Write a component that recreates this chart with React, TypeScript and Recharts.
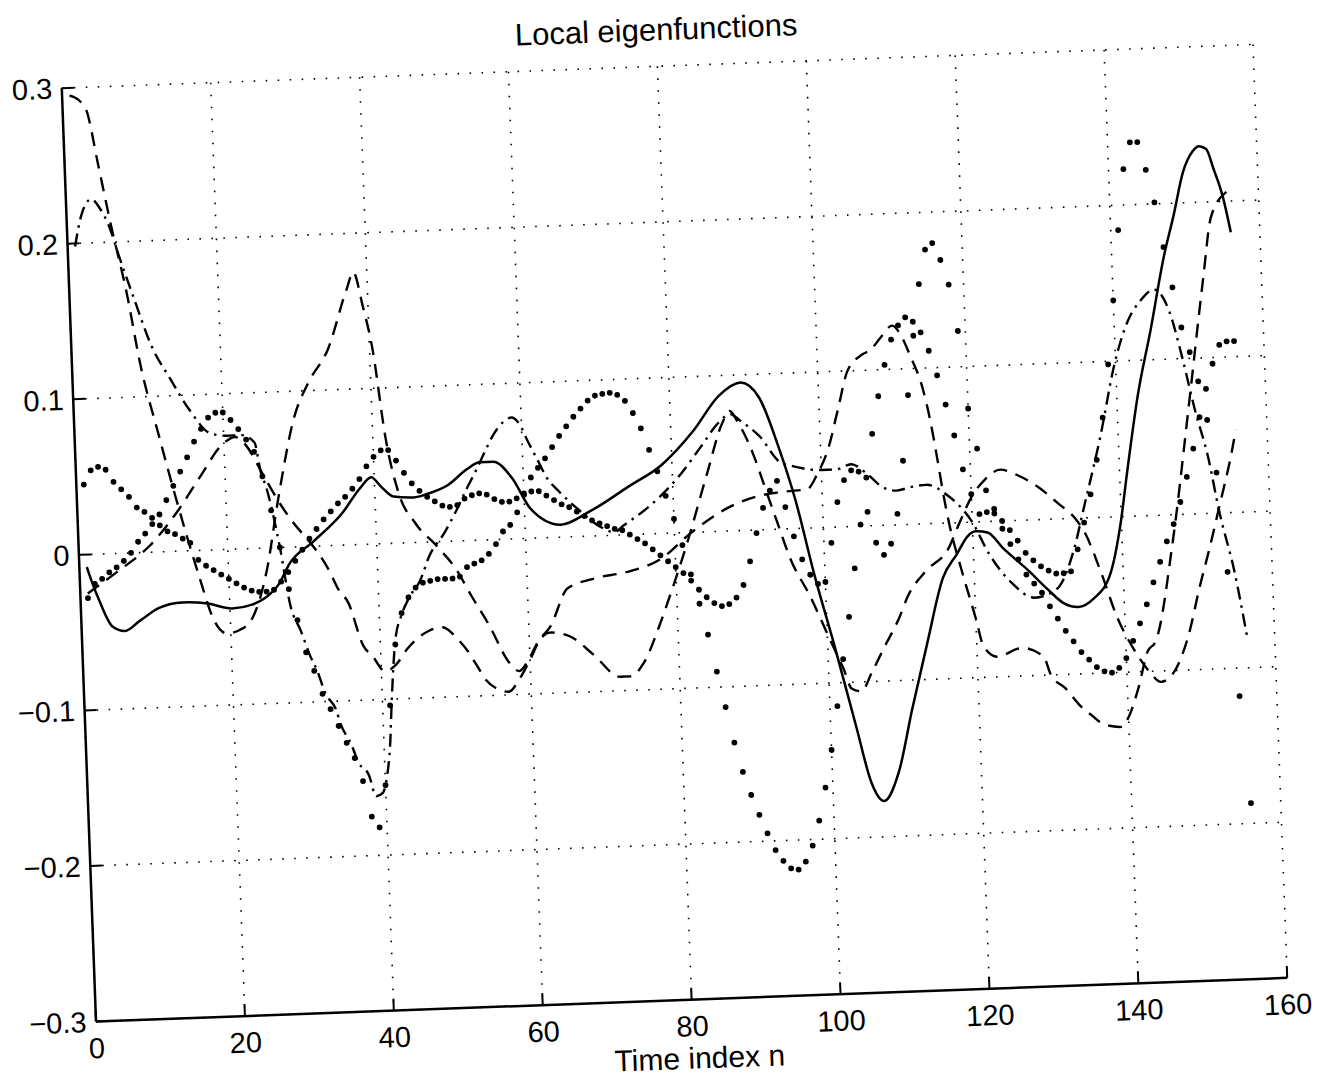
import React from "react";
import { LineChart, Line, XAxis, YAxis, CartesianGrid } from "recharts";

const xTicks = [0, 20, 40, 60, 80, 100, 120, 140, 160];
const yTicks = [-0.3, -0.2, -0.1, 0, 0.1, 0.2, 0.3];

// solid eigenfunction, [n, value]
const solidPts: [number, number][] = [
  [1, -0.008], [1.5, -0.016], [2.6, -0.031], [4.2, -0.047], [5.8, -0.05], [7.8, -0.044],
  [10.5, -0.036], [13.6, -0.033], [16.8, -0.034], [20.3, -0.038], [23, -0.036], [24.8, -0.032],
  [26.6, -0.024], [28.3, -0.01], [31.5, 0.003], [35.6, 0.021], [38, 0.036], [39.6, 0.043],
  [40.8, 0.037], [42.5, 0.03], [45.2, 0.029], [47.1, 0.031], [49.8, 0.036], [52.5, 0.046],
  [54.2, 0.05], [56, 0.05], [58.5, 0.039], [60.8, 0.019], [64.8, 0.008], [68.8, 0.016],
  [74.1, 0.031], [78.6, 0.044], [83, 0.065], [86.6, 0.087], [89.6, 0.095], [92, 0.085],
  [94.3, 0.054], [96.4, 0.018], [98.6, -0.031], [100.8, -0.074], [103.4, -0.128], [105.2, -0.165],
  [106.8, -0.177], [108.9, -0.159], [111, -0.119], [113.4, -0.076], [115.8, -0.035], [117.8, -0.02],
  [119.3, -0.009], [120.4, -0.006], [122, -0.007], [124.1, -0.018], [127.2, -0.032], [129.8, -0.045],
  [131.8, -0.054], [133.8, -0.057], [135.9, -0.052], [138.3, -0.036], [139.9, -0.004], [141, 0.028],
  [142.8, 0.077], [144.9, 0.12], [147, 0.166], [148.5, 0.192], [150, 0.22], [151.4, 0.233],
  [152.2, 0.236], [153.2, 0.234], [154.1, 0.221], [155.2, 0.203], [156.1, 0.18],
];

// dashed eigenfunction starting at the top-left corner
const dashedA: [number, number][] = [
  [1, 0.295], [2.2, 0.292], [3.2, 0.285], [4.5, 0.25], [5.8, 0.214], [7.8, 0.164], [9.1, 0.123],
  [11.3, 0.075], [13.2, 0.036], [16.1, -0.018], [17.7, -0.044], [19.5, -0.054], [21.2, -0.052],
  [22.8, -0.046], [25.1, -0.015], [27, 0.031], [29.6, 0.084], [31.6, 0.105], [34.4, 0.126],
  [37.2, 0.164], [38.2, 0.175], [39.3, 0.153], [40.4, 0.125], [41.7, 0.068], [43.2, 0.032],
  [45.2, 0.013], [48.1, -0.003], [50.5, -0.018], [52.5, -0.036], [54.6, -0.054], [57.3, -0.08],
  [58.5, -0.085], [59.8, -0.078], [61.1, -0.067], [62.9, -0.057], [65.4, -0.033], [69.3, -0.027],
  [73.3, -0.024], [77.8, -0.017], [82.3, 0], [86.9, 0.014], [91.7, 0.022], [95, 0.024], [98, 0.025],
  [99.5, 0.035], [101, 0.05], [102.5, 0.075], [104, 0.1], [106, 0.11], [107.2, 0.113], [108.5, 0.12],
  [110.2, 0.128], [111.5, 0.12], [112.5, 0.108], [114, 0.087], [114.9, 0.065], [115.6, 0.042],
  [116.3, 0.017], [116.8, 0.002], [118.3, -0.03], [120, -0.062], [120.9, -0.08], [122.7, -0.087],
  [126, -0.082], [128.9, -0.088], [129.8, -0.1], [131.7, -0.109], [133.5, -0.12], [135.1, -0.127],
  [136.7, -0.133], [139, -0.135], [140.1, -0.128], [141.5, -0.11], [142.9, -0.087], [144, -0.081],
  [146.8, -0.017], [149.5, 0.066], [152.2, 0.152], [153.5, 0.19], [155.7, 0.206],
];

// second dashed eigenfunction
const dashedC: [number, number][] = [
  [1, -0.025], [5, -0.012], [9.5, 0.004], [13.5, 0.026], [16.6, 0.047], [19.9, 0.068], [21.5, 0.072],
  [23, 0.066], [25, 0.048], [27, 0.03], [29, 0.015], [31, 0.003], [32.7, -0.009], [33.6, -0.017],
  [34.6, -0.028], [35.9, -0.037], [37.7, -0.065], [38.9, -0.072], [40.5, -0.082], [42, -0.078],
  [43.6, -0.068], [46.6, -0.057], [48.4, -0.055], [50.4, -0.063], [51.7, -0.071], [52.8, -0.08],
  [54, -0.09], [55.5, -0.096], [57, -0.098], [58.5, -0.09], [60, -0.078], [61.5, -0.065],
  [62.8, -0.061], [65.5, -0.064], [68.5, -0.076], [72, -0.091], [73.4, -0.091], [75.2, -0.083],
  [77.7, -0.057], [79.1, -0.04], [81.7, -0.006], [84.7, 0.038], [87, 0.07], [88, 0.077], [89, 0.07],
  [91, 0.048], [92.3, 0.028], [93.8, 0.005], [95.4, -0.019], [97.9, -0.044], [100.5, -0.074],
  [102, -0.091], [103, -0.104], [104.3, -0.106], [105.8, -0.094], [107.5, -0.079], [109.7, -0.06],
  [111, -0.046], [113.6, -0.03], [116.6, -0.017], [118.3, 0], [120, 0.016], [121.9, 0.027],
  [124, 0.033], [126.3, 0.029], [129, 0.021], [131.6, 0.01], [133.8, 0], [135.1, -0.01],
  [137, -0.035], [139, -0.065], [141, -0.085], [143, -0.1], [144.5, -0.107], [146, -0.103],
  [148.3, -0.08], [150.3, -0.045], [151.6, -0.024], [153.2, 0.004], [155, 0.036], [155.8, 0.053],
];

// dash-dot eigenfunction
const dashDot: [number, number][] = [
  [1, 0.198], [2, 0.218], [3.4, 0.228], [4.5, 0.222], [5.6, 0.211], [6.9, 0.19], [8.6, 0.164],
  [10.8, 0.132], [13.1, 0.111], [15.6, 0.09], [18.2, 0.075], [20.5, 0.073], [22.4, 0.073],
  [24.1, 0.068], [24.8, 0.049], [25.4, 0.04], [27, 0], [28.1, -0.037], [29.4, -0.054], [30.5, -0.07],
  [31.4, -0.08], [32.4, -0.095], [33.7, -0.105], [34.3, -0.115], [35.6, -0.128], [36.5, -0.14],
  [37.8, -0.148], [38.7, -0.162], [39.6, -0.16], [40.3, -0.148], [40.8, -0.13], [41.2, -0.104],
  [42, -0.063], [43, -0.046], [44, -0.036], [45.7, -0.024], [47, -0.009], [49.2, 0.006],
  [50.9, 0.02], [52.3, 0.033], [53.7, 0.045], [55.1, 0.058], [56, 0.066], [57.5, 0.075],
  [58.7, 0.078], [59.8, 0.073], [60.8, 0.062], [61.9, 0.051], [63.2, 0.038], [64.6, 0.03],
  [67.3, 0.017], [70, 0.006], [72, 0.002], [73.2, 0.006], [76, 0.015], [78.3, 0.024], [81, 0.037],
  [84, 0.055], [86.5, 0.07], [88, 0.075], [89.5, 0.07], [91.9, 0.06], [94.5, 0.043], [96.3, 0.04],
  [100, 0.037], [102, 0.037], [104, 0.04], [106, 0.034], [108, 0.025], [110, 0.022], [112, 0.024],
  [114, 0.025], [117, 0.017], [118.3, 0.011], [120, 0], [122, -0.02], [125, -0.04], [128, -0.05],
  [131, -0.045], [133.5, -0.02], [135, 0.006], [137.6, 0.052], [139.9, 0.099], [141.8, 0.125],
  [143.6, 0.138], [145.5, 0.145], [147.5, 0.13], [149, 0.1], [150.4, 0.067], [152, 0.035],
  [153.1, 0.003], [155, -0.04], [156.3, -0.08],
];

// point-marked eigenfunctions, one value per sample n = 1..156
const dotsP1: number[] = [
  0.045, 0.054, 0.056, 0.054, 0.046, 0.041, 0.036, 0.029, 0.026, 0.022,
  0.017, 0.013, 0.011, 0.008, 0.005, -0.006, -0.01, -0.013, -0.016, -0.019,
  -0.022, -0.025, -0.027, -0.028, -0.028, -0.027, -0.022, -0.016, -0.009, -0.002,
  0.005, 0.011, 0.017, 0.022, 0.027, 0.031, 0.036, 0.042, 0.05, 0.056,
  0.06, 0.06, 0.053, 0.045, 0.038, 0.033, 0.029, 0.026, 0.023, 0.022,
  0.023, 0.027, 0.029, 0.03, 0.029, 0.026, 0.024, 0.024, 0.026, 0.029,
  0.03, 0.03, 0.027, 0.024, 0.021, 0.019, 0.016, 0.013, 0.01, 0.008,
  0.006, 0.004, 0.003, 0, -0.003, -0.006, -0.01, -0.014, -0.018, -0.022,
  -0.026, -0.031, -0.037, -0.042, -0.046, -0.048, -0.047, -0.043, -0.035, -0.02,
  -0.002, 0.014, 0.025, 0.031, 0.014, -0.005, -0.02, -0.03, -0.036, -0.035,
  -0.01, 0.016, 0.03, 0.036, 0.035, 0.031, 0.059, 0.083, 0.103, 0.119,
  0.128, 0.133, 0.13, 0.123, 0.111, 0.095, 0.076, 0.056, 0.034, 0.018,
  0.005, 0.006, 0.008, 0, -0.006, -0.013, -0.021, -0.026, -0.03, -0.033,
  -0.035, -0.035, -0.034, -0.02, -0.003, 0.015, 0.037, 0.064, 0.098, 0.139,
  0.184, 0.223, 0.24, 0.24, 0.222, 0.201, 0.172, 0.146, 0.12, 0.104,
  0.085, 0.06, 0.026, -0.038, -0.118, -0.187,
];

const dotsP2: number[] = [
  -0.028, -0.019, -0.016, -0.012, -0.009, -0.005, 0, 0.007, 0.012, 0.018,
  0.024, 0.033, 0.042, 0.051, 0.06, 0.07, 0.078, 0.085, 0.088, 0.088,
  0.083, 0.077, 0.07, 0.062, 0.046, 0.024, 0, -0.027, -0.047, -0.068,
  -0.08, -0.095, -0.105, -0.116, -0.127, -0.137, -0.152, -0.175, -0.182, -0.155,
  -0.104, -0.065, -0.045, -0.035, -0.029, -0.026, -0.025, -0.024, -0.024, -0.024,
  -0.023, -0.017, -0.015, -0.013, -0.009, -0.003, 0.005, 0.009, 0.017, 0.028,
  0.039, 0.045, 0.051, 0.058, 0.065, 0.071, 0.077, 0.082, 0.087, 0.09,
  0.091, 0.0915, 0.09, 0.086, 0.078, 0.068, 0.054, 0.04, 0.024, 0.009,
  -0.008, -0.027, -0.046, -0.066, -0.09, -0.113, -0.136, -0.155, -0.17, -0.183,
  -0.195, -0.206, -0.213, -0.218, -0.219, -0.214, -0.204, -0.188, -0.167, -0.143,
  -0.115, -0.085, -0.058, -0.027, 0.001, 0.009, -0.011, -0.019, -0.012, 0.007,
  0.041, 0.083, 0.121, 0.154, 0.176, 0.18, 0.169, 0.153, 0.123, 0.073,
  0.047, 0.02, 0.005, -0.005, -0.015, -0.025, -0.035, -0.041, -0.047, -0.056,
  -0.064, -0.072, -0.079, -0.086, -0.091, -0.096, -0.099, -0.1, -0.097, -0.091,
  -0.08, -0.069, -0.057, -0.043, -0.03, -0.017, -0.006, 0.008, 0.024, 0.042,
  0.062, 0.08, 0.096, 0.108, 0.11, 0.11,
];

const toRows = (pts: [number, number][]) => pts.map(([n, v]) => ({ n, v }));
const fromSamples = (vals: number[]) => vals.map((v, i) => ({ n: i + 1, v }));

const FONT = "'Liberation Sans', Arial, Helvetica, sans-serif";
const fmtY = (v: number) => {
  if (Math.abs(v) < 1e-9) return "0";
  const s = Math.abs(v).toFixed(1);
  return v < 0 ? "\u2212" + s : s;
};

const axisLine = { stroke: "#000", strokeWidth: 2.5 };
const tickLine = { stroke: "#000", strokeWidth: 2 };
const tickText = { fill: "#000", fontSize: 29, fontFamily: FONT };
const dotStyle = { r: 2.9, fill: "#000", stroke: "none" };

export default function App() {
  return (
    <div
      style={{
        position: "absolute",
        left: 0,
        top: 0,
        width: 1318,
        height: 1078,
        overflow: "hidden",
        background: "#fff",
      }}
    >
      <div
        style={{
          position: "absolute",
          left: 0,
          top: 0,
          width: 1318,
          height: 1078,
          transform: "rotate(-2.1deg)",
          transformOrigin: "674.5px 533px",
        }}
      >
        <LineChart
          width={1318}
          height={1078}
          margin={{ top: 66, right: 47.5, bottom: 38, left: 18.5 }}
        >
          <CartesianGrid stroke="#000" strokeWidth={1.6} strokeDasharray="1.6 10.4" />
          <XAxis
            type="number"
            dataKey="n"
            domain={[0, 160]}
            ticks={xTicks}
            interval={0}
            allowDataOverflow
            height={40}
            tickSize={-12}
            tickMargin={28}
            axisLine={axisLine}
            tickLine={tickLine}
            tick={tickText}
          />
          <XAxis
            xAxisId="top"
            orientation="top"
            type="number"
            dataKey="n"
            domain={[0, 160]}
            ticks={xTicks}
            interval={0}
            allowDataOverflow
            height={0}
            tickSize={-12}
            axisLine={axisLine}
            tickLine={tickLine}
            tick={false}
          />
          <YAxis
            type="number"
            domain={[-0.3, 0.3]}
            ticks={yTicks}
            interval={0}
            allowDataOverflow
            width={60}
            tickSize={-12}
            tickMargin={21.5}
            tickFormatter={fmtY}
            axisLine={axisLine}
            tickLine={tickLine}
            tick={tickText}
          />
          <YAxis
            yAxisId="right"
            orientation="right"
            type="number"
            domain={[-0.3, 0.3]}
            ticks={yTicks}
            interval={0}
            allowDataOverflow
            width={0}
            tickSize={-12}
            axisLine={axisLine}
            tickLine={tickLine}
            tick={false}
          />
          <Line data={toRows(dashedA)} dataKey="v" type="monotone" stroke="#000" strokeWidth={2.4}
            strokeDasharray="14 9" dot={false} isAnimationActive={false} />
          <Line data={toRows(dashedC)} dataKey="v" type="monotone" stroke="#000" strokeWidth={2.4}
            strokeDasharray="14 9" dot={false} isAnimationActive={false} />
          <Line data={toRows(dashDot)} dataKey="v" type="monotone" stroke="#000" strokeWidth={2.4}
            strokeDasharray="13 6 2.5 6" dot={false} isAnimationActive={false} />
          <Line data={toRows(solidPts)} dataKey="v" type="monotone" stroke="#000" strokeWidth={2.5}
            dot={false} isAnimationActive={false} />
          <Line data={fromSamples(dotsP1)} dataKey="v" stroke="none" dot={dotStyle}
            activeDot={false} isAnimationActive={false} />
          <Line data={fromSamples(dotsP2)} dataKey="v" stroke="none" dot={dotStyle}
            activeDot={false} isAnimationActive={false} />
        </LineChart>
        <div
          style={{
            position: "absolute",
            left: 674.5,
            top: 30,
            transform: "translate(-50%, -50%)",
            fontFamily: FONT,
            fontSize: 31,
            whiteSpace: "nowrap",
            color: "#000",
          }}
        >
          Local eigenfunctions
        </div>
        <div
          style={{
            position: "absolute",
            left: 680.5,
            top: 1059,
            transform: "translate(-50%, -50%)",
            fontFamily: FONT,
            fontSize: 30,
            lineHeight: "32px",
            whiteSpace: "nowrap",
            color: "#000",
          }}
        >
          Time index n
        </div>
      </div>
    </div>
  );
}
